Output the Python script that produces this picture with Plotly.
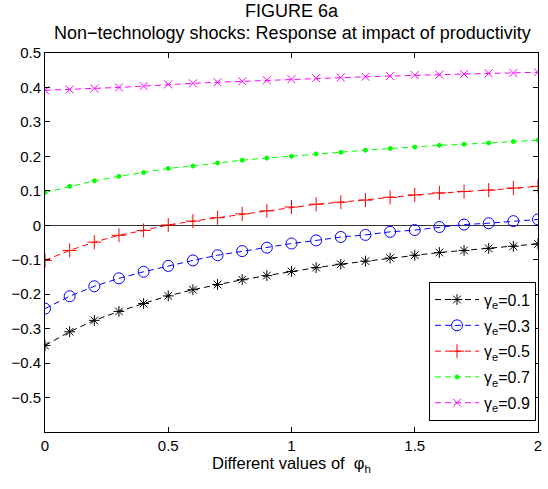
import plotly.graph_objects as go

# Values of phi_h on the horizontal axis
phi_h = [round(0.1 * i, 1) for i in range(21)]

# Response at impact of productivity for each gamma_e
gamma_01 = [-0.349, -0.309, -0.276, -0.250, -0.227, -0.205, -0.187, -0.172, -0.158, -0.146,
            -0.134, -0.123, -0.113, -0.104, -0.095, -0.087, -0.079, -0.073, -0.067, -0.061, -0.054]
gamma_03 = [-0.242, -0.206, -0.177, -0.154, -0.135, -0.118, -0.102, -0.087, -0.075, -0.065,
            -0.053, -0.044, -0.034, -0.028, -0.019, -0.014, -0.005, 0.002, 0.006, 0.012, 0.017]
gamma_05 = [-0.102, -0.073, -0.049, -0.029, -0.015, 0.001, 0.012, 0.022, 0.033, 0.042,
            0.053, 0.061, 0.067, 0.073, 0.081, 0.088, 0.094, 0.098, 0.102, 0.108, 0.113]
gamma_07 = [0.095, 0.113, 0.129, 0.142, 0.153, 0.165, 0.172, 0.181, 0.189, 0.195,
            0.200, 0.207, 0.212, 0.218, 0.223, 0.227, 0.232, 0.235, 0.239, 0.243, 0.247]
gamma_09 = [0.392, 0.394, 0.397, 0.400, 0.404, 0.409, 0.412, 0.415, 0.418, 0.421,
            0.424, 0.427, 0.429, 0.431, 0.433, 0.436, 0.437, 0.439, 0.441, 0.442, 0.444]

series_names = ["γ<sub>e</sub>=0.1", "γ<sub>e</sub>=0.3", "γ<sub>e</sub>=0.5",
                "γ<sub>e</sub>=0.7", "γ<sub>e</sub>=0.9"]
series_values = [gamma_01, gamma_03, gamma_05, gamma_07, gamma_09]

y_ticks = [0.5, 0.4, 0.3, 0.2, 0.1, 0, -0.1, -0.2, -0.3, -0.4, -0.5]
y_ticklabels = ["0.5", "0.4", "0.3", "0.2", "0.1", "0", "−0.1", "−0.2", "−0.3", "−0.4", "−0.5"]
x_ticks = [0, 0.5, 1, 1.5, 2]
x_ticklabels = ["0", "0.5", "1", "1.5", "2"]

styles = [
    dict(color="#000000", symbol="asterisk-open", size=9),
    dict(color="#0000ff", symbol="circle-open", size=11),
    dict(color="#ff0000", symbol="cross-thin-open", size=10),
    dict(color="#00ff00", symbol="circle", size=4),
    dict(color="#ff00ff", symbol="x-thin-open", size=8),
]

fig = go.Figure()

for i, (name, vals, st) in enumerate(zip(series_names, series_values, styles)):
    fig.add_trace(go.Scatter(
        x=phi_h, y=vals, name=name, mode="lines+markers", legendgroup=f"g{i}",
        line=dict(color=st["color"], width=1, dash="6px,4px"),
        marker=dict(symbol=st["symbol"], size=st["size"], color=st["color"],
                    line=dict(color=st["color"], width=1)),
    ))

font_family = "Liberation Sans, Arial, sans-serif"

# Two-line heading placed above the axes
fig.add_annotation(text="FIGURE 6a", xref="paper", yref="paper",
                   x=0.502, y=1.111, xanchor="center", yanchor="middle", showarrow=False,
                   font=dict(family=font_family, size=18, color="black"))
fig.add_annotation(text="Non−technology shocks: Response at impact of productivity",
                   xref="paper", yref="paper",
                   x=0.502, y=1.052, xanchor="center", yanchor="middle", showarrow=False,
                   font=dict(family=font_family, size=18, color="black"))

fig.update_layout(
    width=548, height=489,
    margin=dict(l=45, r=6, t=53, b=57),
    paper_bgcolor="white", plot_bgcolor="white",
    font=dict(family=font_family, size=15, color="black"),
    showlegend=True,
    legend=dict(
        x=0.996, xanchor="right", y=0.03, yanchor="bottom",
        bordercolor="black", borderwidth=1, bgcolor="white",
        font=dict(family=font_family, size=16),
        itemwidth=44, tracegroupgap=2,
    ),
)

fig.update_xaxes(
    range=[0, 2], tickvals=x_ticks, ticktext=x_ticklabels,
    ticks="inside", ticklen=5, tickcolor="black", mirror="ticks",
    showline=True, linecolor="black", linewidth=1, showgrid=False, zeroline=False,
    title=dict(text="Different values of  φ<sub>h</sub>", standoff=4,
               font=dict(family=font_family, size=16.5)),
)
fig.update_yaxes(
    range=[-0.6, 0.5], tickvals=y_ticks, ticktext=y_ticklabels,
    ticks="inside", ticklen=5, tickcolor="black", mirror="ticks",
    showline=True, linecolor="black", linewidth=1, showgrid=False,
    zeroline=True, zerolinecolor="#333333", zerolinewidth=1,
)

fig.write_html("out.html")
